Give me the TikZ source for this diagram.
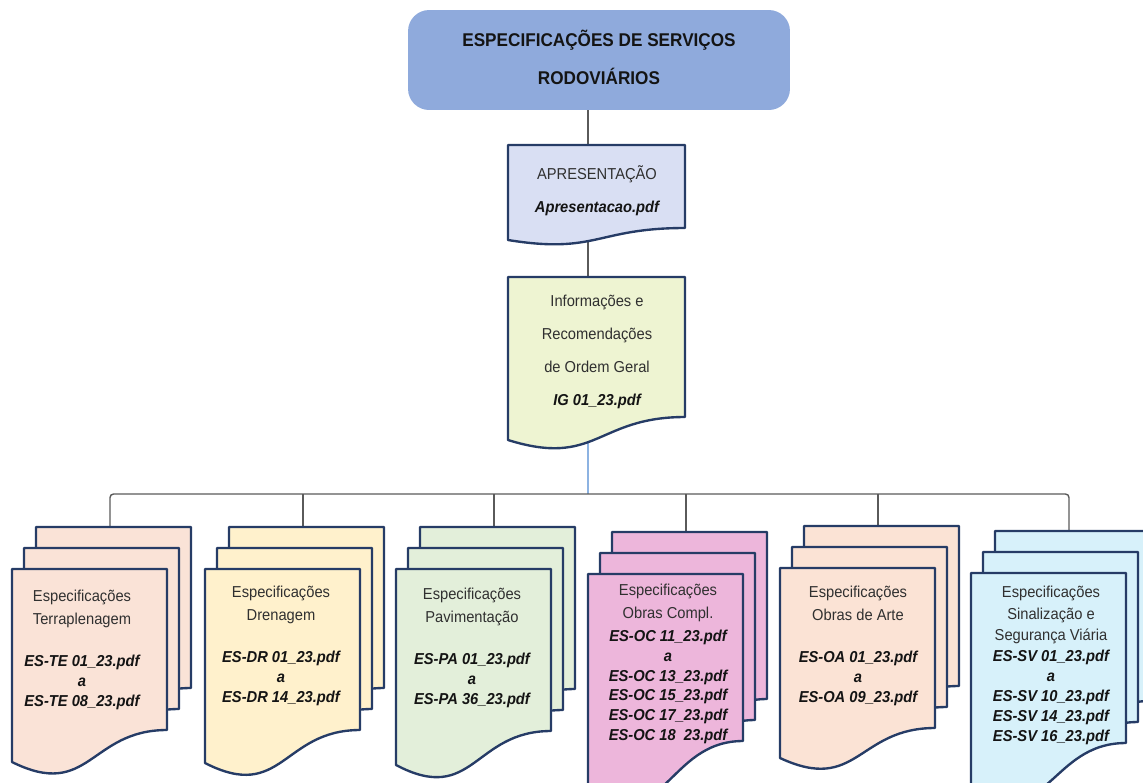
\documentclass[tikz,border=0pt]{standalone}
\usepackage{fontspec}
\setmainfont{Liberation Sans}[FakeStretch=0.93]
\definecolor{titleblue}{HTML}{8FAADC}
\definecolor{apresfill}{HTML}{D9DFF3}
\definecolor{infofill}{HTML}{EEF4D2}
\definecolor{terrafill}{HTML}{FAE3D7}
\definecolor{drenfill}{HTML}{FFF1CC}
\definecolor{pavfill}{HTML}{E3EFDA}
\definecolor{obrasfill}{HTML}{EDB6DB}
\definecolor{artefill}{HTML}{FBE3D5}
\definecolor{sinalfill}{HTML}{D7F1FA}
\definecolor{navyline}{HTML}{263C66}
\definecolor{linkgray}{HTML}{5A5A5A}
\definecolor{linkblue}{HTML}{8DB3E2}
\definecolor{txtgray}{HTML}{303030}
\definecolor{pdfblack}{HTML}{141414}
\newcommand{\arq}[1]{{\bfseries\itshape\color{pdfblack}#1}}
\pgfdeclarelayer{background}
\pgfsetlayers{background,main}
\tikzset{
    sheet/.style={draw=navyline, line width=1.35pt, line join=round},
    conn/.style={draw=linkgray, line width=0.8pt},
    bodytxt/.style={font=\fontsize{9}{11.3}\selectfont, text=txtgray, align=center, inner sep=0pt},
    titlebox/.style={fill=titleblue, rounded corners=12pt, minimum width=7.64cm, minimum height=2cm,
        font=\fontsize{10.5}{11.2}\selectfont\bfseries, text=pdfblack, align=center}
}
% single document sheet: fill, width, right drop, left drop
\tikzset{
    pics/doc/.style n args={4}{code={
        \filldraw[sheet, fill=#1] (0,0) -- (#2,0) -- (#2,#3)
            .. controls ({0.5*#2},#3) and ({0.5*#2},{#4+1.2*(#4-#3)}) .. (0,#4) -- cycle;
        \coordinate (-top) at (80,0);
        \coordinate (-bot) at (80,#4);
    }}
}
% three stacked sheets: fill, right drop, left drop
\tikzset{
    pics/multidoc/.style n args={3}{code={
        \foreach \dx/\dy in {24/-42,12/-21,0/0}
            \filldraw[sheet, fill=#1, shift={(\dx,\dy)}] (0,0) -- (155,0) -- (155,#2)
                .. controls (77.5,#2) and (77.5,{#3+1.2*(#3-#2)}) .. (0,#3) -- cycle;
        \coordinate (-top) at (98,-42);
    }}
}

\begin{document}
\begin{tikzpicture}[x=0.02cm, y=-0.02cm]
    \useasboundingbox (0,0) rectangle (1143,782);

    \node[titlebox] (title) at (599,60) {ESPECIFICAÇÕES DE SERVIÇOS\\[9.2pt]RODOVIÁRIOS\\[-7.8pt]};

    \pic (apres) at (508,145) {doc={apresfill}{177}{83}{95}};
    \node[bodytxt] (apresTxt) at (597,191) {APRESENTAÇÃO\\[7.4pt]\arq{Apresentacao.pdf}};

    \pic (info) at (508,277) {doc={infofill}{177}{140}{163}};
    \node[bodytxt] (infoTxt) at (597,352) {Informações e\\[7.4pt]Recomendações\\[7.4pt]de Ordem Geral\\[7.4pt]\arq{IG 01\_23.pdf}};

    \pic (terra) at (12,569) {multidoc={terrafill}{161}{193}};
    \pic (dren) at (205,569) {multidoc={drenfill}{161}{194}};
    \pic (pav) at (396,569) {multidoc={pavfill}{162}{196}};
    \pic (obras) at (588,574) {multidoc={obrasfill}{167}{212}};
    \pic (arte) at (780,568) {multidoc={artefill}{160}{190}};
    \pic (sinal) at (971,573) {multidoc={sinalfill}{170}{212}};

    \node[bodytxt] (terraTxt) at (82,650) {Especificações\\[1.7pt]Terraplenagem\\[12.5pt]\arq{ES-TE 01\_23.pdf}\\\arq{a}\\\arq{ES-TE 08\_23.pdf}};
    \node[bodytxt] (drenTxt) at (281,646) {Especificações\\[1.7pt]Drenagem\\[12.5pt]\arq{ES-DR 01\_23.pdf}\\\arq{a}\\\arq{ES-DR 14\_23.pdf}};
    \node[bodytxt] (pavTxt) at (472,648) {Especificações\\[1.7pt]Pavimentação\\[12.5pt]\arq{ES-PA 01\_23.pdf}\\\arq{a}\\\arq{ES-PA 36\_23.pdf}};
    \node[bodytxt] (obrasTxt) at (668,664) {Especificações\\[1.7pt]Obras Compl.\\[1.7pt]\arq{ES-OC 11\_23.pdf}\\\arq{a}\\\arq{ES-OC 13\_23.pdf}\\\arq{ES-OC 15\_23.pdf}\\\arq{ES-OC 17\_23.pdf}\\\arq{ES-OC 18\hphantom{\_}23.pdf}};
    \node[bodytxt] (arteTxt) at (858,646) {Especificações\\[1.7pt]Obras de Arte\\[12.5pt]\arq{ES-OA 01\_23.pdf}\\\arq{a}\\\arq{ES-OA 09\_23.pdf}};
    \node[bodytxt] (sinalTxt) at (1051,665) {Especificações\\[1.2pt]Sinalização e\\[1.2pt]Segurança Viária\\[0.5pt]\arq{ES-SV 01\_23.pdf}\\\arq{a}\\\arq{ES-SV 10\_23.pdf}\\\arq{ES-SV 14\_23.pdf}\\\arq{ES-SV 16\_23.pdf}};

    \coordinate (bus) at (588,494);
    \begin{pgfonlayer}{background}
        \draw[conn] (title.south -| apres-top) -- (apres-top);
        \draw[conn] (apres-bot) -- (info-top);
        \draw[conn, draw=linkblue] (info-bot) -- (bus);
        \draw[conn, rounded corners=2pt] (terra-top) |- (bus) -| (sinal-top);
        \foreach \g in {dren,pav,obras,arte}
            \draw[conn] (bus -| \g-top) -- (\g-top);
    \end{pgfonlayer}
\end{tikzpicture}
\end{document}
